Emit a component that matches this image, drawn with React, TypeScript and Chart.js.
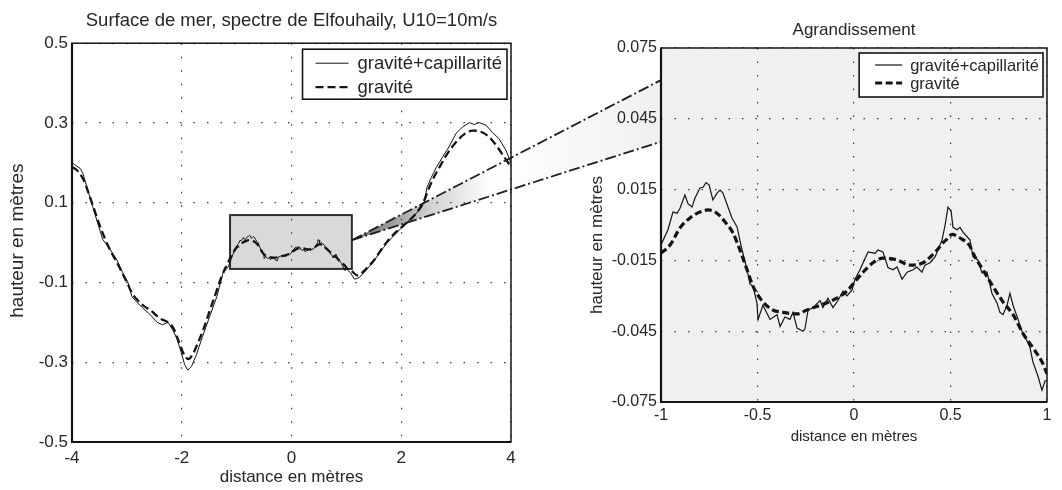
import React, { useEffect, useRef } from "react";
import { Chart, registerables } from "chart.js";

Chart.register(...registerables);

const FONT = "'Liberation Sans', Arial, Helvetica, sans-serif";
const TEXT_COLOR = "#262626";
const INK = "#141414";
const GRID_COLOR = "#3a3a3a";

const overviewTitle = "Surface de mer, spectre de Elfouhaily, U10=10m/s";
const zoomTitle = "Agrandissement";
const xAxisLabel = "distance en mètres";
const yAxisLabel = "hauteur en mètres";
const seriesLabels = ["gravité+capillarité", "gravité"];

const overviewXTicks = [-4, -2, 0, 2, 4];
const overviewYTicks = [-0.5, -0.3, -0.1, 0.1, 0.3, 0.5];
const zoomXTicks = [-1, -0.5, 0, 0.5, 1];
const zoomYTicks = [-0.075, -0.045, -0.015, 0.015, 0.045, 0.075];

// gravité+capillarité, x < -1
const solidWestX = [-4.0, -3.95, -3.85, -3.8, -3.71, -3.62, -3.53, -3.44, -3.31, -3.18, -3.07, -2.98, -2.91, -2.82, -2.71, -2.58, -2.45, -2.35, -2.25, -2.16, -2.09, -2.0, -1.95, -1.89, -1.82, -1.73, -1.62, -1.49, -1.36, -1.25, -1.15, -1.07];
const solidWestY = [0.201, 0.195, 0.186, 0.173, 0.131, 0.089, 0.048, 0.008, -0.016, -0.044, -0.077, -0.1, -0.135, -0.149, -0.164, -0.18, -0.2, -0.206, -0.2, -0.22, -0.24, -0.28, -0.305, -0.32, -0.31, -0.28, -0.235, -0.185, -0.135, -0.077, -0.06, -0.03];

// gravité+capillarité, -1 .. 1
const zoomSolidX = [-1.0, -0.964, -0.938, -0.917, -0.902, -0.876, -0.86, -0.839, -0.824, -0.798, -0.782, -0.767, -0.751, -0.731, -0.71, -0.694, -0.679, -0.653, -0.632, -0.606, -0.58, -0.554, -0.539, -0.523, -0.503, -0.497, -0.472, -0.435, -0.399, -0.383, -0.358, -0.332, -0.316, -0.295, -0.264, -0.254, -0.238, -0.212, -0.176, -0.161, -0.135, -0.109, -0.083, -0.057, -0.036, -0.01, 0.005, 0.031, 0.047, 0.073, 0.098, 0.109, 0.124, 0.15, 0.176, 0.202, 0.223, 0.249, 0.275, 0.306, 0.326, 0.352, 0.368, 0.394, 0.42, 0.435, 0.456, 0.472, 0.487, 0.503, 0.513, 0.534, 0.549, 0.565, 0.601, 0.617, 0.642, 0.663, 0.689, 0.715, 0.741, 0.756, 0.772, 0.793, 0.808, 0.824, 0.85, 0.87, 0.896, 0.912, 0.927, 0.953, 0.974, 0.99, 1.0];
const zoomSolidY = [-0.0085, -0.002, 0.0055, 0.005, 0.007, 0.0127, 0.009, 0.0076, 0.0114, 0.0157, 0.016, 0.018, 0.017, 0.0106, 0.0135, 0.0148, 0.0135, 0.0076, 0.003, -0.0008, -0.0106, -0.019, -0.025, -0.026, -0.033, -0.04, -0.034, -0.04, -0.038, -0.043, -0.039, -0.04, -0.037, -0.0437, -0.045, -0.044, -0.036, -0.035, -0.032, -0.035, -0.031, -0.035, -0.032, -0.028, -0.03, -0.0275, -0.023, -0.019, -0.016, -0.0114, -0.0118, -0.012, -0.0106, -0.0114, -0.018, -0.019, -0.0178, -0.023, -0.02, -0.019, -0.0178, -0.02, -0.017, -0.016, -0.0135, -0.0106, -0.0064, 0.0, 0.0076, 0.006, -0.001, -0.002, -0.001, -0.003, -0.0064, -0.0135, -0.0148, -0.0203, -0.0199, -0.029, -0.033, -0.037, -0.038, -0.034, -0.029, -0.034, -0.04, -0.045, -0.049, -0.052, -0.058, -0.064, -0.07, -0.066, -0.066];

// gravité+capillarité, x > 1
const solidEastX = [1.07, 1.15, 1.24, 1.36, 1.47, 1.6, 1.73, 1.84, 2.02, 2.18, 2.33, 2.42, 2.47, 2.55, 2.64, 2.75, 2.87, 3.0, 3.11, 3.24, 3.33, 3.42, 3.55, 3.66, 3.78, 3.91, 4.0];
const solidEastY = [-0.075, -0.092, -0.087, -0.069, -0.052, -0.027, -0.003, 0.014, 0.039, 0.061, 0.081, 0.101, 0.139, 0.164, 0.189, 0.214, 0.24, 0.274, 0.289, 0.301, 0.296, 0.301, 0.294, 0.276, 0.261, 0.231, 0.199];

// gravité, x < -1
const dashWestX = [-4.0, -3.9, -3.8, -3.7, -3.6, -3.5, -3.4, -3.3, -3.2, -3.1, -3.0, -2.9, -2.8, -2.7, -2.55, -2.4, -2.25, -2.15, -2.05, -1.95, -1.88, -1.8, -1.7, -1.6, -1.5, -1.4, -1.3, -1.2, -1.1];
const dashWestY = [0.19, 0.18, 0.16, 0.125, 0.085, 0.045, 0.01, -0.02, -0.045, -0.072, -0.1, -0.128, -0.145, -0.158, -0.172, -0.19, -0.2, -0.215, -0.25, -0.283, -0.292, -0.28, -0.25, -0.215, -0.175, -0.135, -0.095, -0.062, -0.035];

// gravité, -1 .. 1
const zoomDashX = [-1.0, -0.953, -0.902, -0.85, -0.798, -0.756, -0.71, -0.668, -0.627, -0.591, -0.554, -0.523, -0.472, -0.42, -0.368, -0.295, -0.244, -0.176, -0.109, -0.036, 0.005, 0.047, 0.098, 0.15, 0.223, 0.29, 0.358, 0.43, 0.461, 0.482, 0.508, 0.549, 0.601, 0.617, 0.668, 0.72, 0.772, 0.824, 0.876, 0.927, 0.974, 1.0];
const zoomDashY = [-0.012, -0.0085, -0.0013, 0.003, 0.0055, 0.0064, 0.005, 0.0013, -0.0034, -0.0106, -0.019, -0.026, -0.0326, -0.036, -0.037, -0.0377, -0.036, -0.034, -0.0318, -0.028, -0.024, -0.02, -0.016, -0.014, -0.0148, -0.017, -0.016, -0.0106, -0.0076, -0.006, -0.004, -0.0055, -0.009, -0.012, -0.019, -0.026, -0.0326, -0.038, -0.046, -0.052, -0.058, -0.063];

// gravité, x > 1
const dashEastX = [1.1, 1.2, 1.3, 1.4, 1.5, 1.6, 1.7, 1.8, 1.95, 2.1, 2.25, 2.4, 2.5, 2.6, 2.7, 2.85, 3.0, 3.15, 3.3, 3.45, 3.6, 3.75, 3.9, 4.0];
const dashEastY = [-0.072, -0.082, -0.074, -0.06, -0.045, -0.025, -0.005, 0.012, 0.032, 0.05, 0.07, 0.1, 0.135, 0.165, 0.19, 0.225, 0.252, 0.272, 0.281, 0.278, 0.265, 0.24, 0.21, 0.19];

// zoom box and connector (data coordinates)
const insetX = [-1.12, 1.1];
const insetY = [-0.066, 0.069];
const wedgeApex = [1.1, 0.006];
const wedgeEndX = -1;
const wedgeEndY = [0.0614, 0.0353];

const toPoints = (xs: number[], ys: number[]) => xs.map((x, i) => ({ x, y: ys[i] }));

const overviewSolid = toPoints([...solidWestX, ...zoomSolidX, ...solidEastX], [...solidWestY, ...zoomSolidY, ...solidEastY]);
const overviewDash = toPoints([...dashWestX, ...zoomDashX, ...dashEastX], [...dashWestY, ...zoomDashY, ...dashEastY]);
const zoomSolid = toPoints(zoomSolidX, zoomSolidY);
const zoomDash = toPoints(zoomDashX, zoomDashY);

const holder: { zoom: any } = { zoom: null };

function setTicks(values: number[]) {
  return (scale: any) => {
    scale.ticks = values.map((v) => ({ value: v }));
  };
}

function drawFrame(chart: any) {
  const { ctx, chartArea: a } = chart;
  ctx.save();
  ctx.setLineDash([]);
  ctx.strokeStyle = INK;
  ctx.lineWidth = 1.5;
  ctx.strokeRect(a.left, a.top, a.right - a.left, a.bottom - a.top);
  ctx.lineWidth = 2.2;
  ctx.beginPath();
  ctx.moveTo(a.left, a.top);
  ctx.lineTo(a.left, a.bottom);
  ctx.lineTo(a.right, a.bottom);
  ctx.stroke();
  ctx.restore();
}

function drawYTitle(chart: any, dx: number, dy: number, size: number) {
  const { ctx, chartArea: a } = chart;
  ctx.save();
  ctx.translate(a.left + dx, (a.top + a.bottom) / 2 + dy);
  ctx.rotate(-Math.PI / 2);
  ctx.font = `${size}px ${FONT}`;
  ctx.fillStyle = TEXT_COLOR;
  ctx.textAlign = "center";
  ctx.textBaseline = "middle";
  ctx.fillText(yAxisLabel, 0, 0);
  ctx.restore();
}

function drawLegend(chart: any, cfg: any) {
  const { ctx, chartArea: a } = chart;
  const sets = chart.data.datasets;
  ctx.save();
  ctx.font = `${cfg.fontSize}px ${FONT}`;
  const tw = Math.max(...sets.map((d: any) => ctx.measureText(d.label).width));
  const w = cfg.padL + cfg.lineLen + cfg.gap + tw + cfg.padR;
  const x = a.right - cfg.insetR - w;
  const y = a.top + cfg.insetT;
  ctx.fillStyle = "#ffffff";
  ctx.fillRect(x, y, w, cfg.height);
  ctx.setLineDash([]);
  ctx.lineWidth = 1.6;
  ctx.strokeStyle = INK;
  ctx.strokeRect(x, y, w, cfg.height);
  sets.forEach((d: any, i: number) => {
    const cy = y + cfg.rowTop + i * cfg.rowGap;
    ctx.beginPath();
    ctx.setLineDash(d.borderDash || []);
    ctx.lineWidth = d.borderWidth;
    ctx.strokeStyle = d.borderColor;
    ctx.moveTo(x + cfg.padL, cy);
    ctx.lineTo(x + cfg.padL + cfg.lineLen, cy);
    ctx.stroke();
    ctx.setLineDash([]);
    ctx.fillStyle = TEXT_COLOR;
    ctx.textAlign = "left";
    ctx.textBaseline = "middle";
    ctx.fillText(d.label, x + cfg.padL + cfg.lineLen + cfg.gap, cy + 1);
  });
  ctx.restore();
}

function wedgeGeometry(chart: any) {
  const z = holder.zoom;
  if (!z) return null;
  return {
    ax: chart.scales.x.getPixelForValue(wedgeApex[0]),
    ay: chart.scales.y.getPixelForValue(wedgeApex[1]),
    ex: z.scales.x.getPixelForValue(wedgeEndX),
    e1: z.scales.y.getPixelForValue(wedgeEndY[0]),
    e2: z.scales.y.getPixelForValue(wedgeEndY[1]),
  };
}

const overviewDecor = {
  id: "overviewDecor",
  beforeDraw(chart: any) {
    const { ctx, scales } = chart;
    const x = scales.x;
    const y = scales.y;
    ctx.save();
    const rx0 = x.getPixelForValue(insetX[0]);
    const rx1 = x.getPixelForValue(insetX[1]);
    const ry0 = y.getPixelForValue(insetY[1]);
    const ry1 = y.getPixelForValue(insetY[0]);
    ctx.fillStyle = "#d9d9d9";
    ctx.fillRect(rx0, ry0, rx1 - rx0, ry1 - ry0);
    ctx.lineWidth = 2;
    ctx.strokeStyle = "#2e2e2e";
    ctx.strokeRect(rx0, ry0, rx1 - rx0, ry1 - ry0);
    const g = wedgeGeometry(chart);
    if (g) {
      const grad = ctx.createLinearGradient(g.ax, 0, g.ex, 0);
      grad.addColorStop(0, "#666666");
      grad.addColorStop(0.25, "#d0d0d0");
      grad.addColorStop(0.45, "#ffffff");
      grad.addColorStop(1, "#f0f0f0");
      ctx.fillStyle = grad;
      ctx.beginPath();
      ctx.moveTo(g.ax, g.ay);
      ctx.lineTo(g.ex, g.e1);
      ctx.lineTo(g.ex, g.e2);
      ctx.closePath();
      ctx.fill();
    }
    ctx.restore();
  },
  afterDatasetsDraw(chart: any) {
    const { ctx } = chart;
    const g = wedgeGeometry(chart);
    if (g) {
      ctx.save();
      ctx.strokeStyle = "#1e1e1e";
      ctx.lineWidth = 1.8;
      ctx.setLineDash([11, 3, 2, 3]);
      [g.e1, g.e2].forEach((ey) => {
        ctx.beginPath();
        ctx.moveTo(g.ax, g.ay);
        ctx.lineTo(g.ex, ey);
        ctx.stroke();
      });
      ctx.restore();
    }
    drawFrame(chart);
    drawLegend(chart, { fontSize: 18.5, padL: 13, lineLen: 33, gap: 9, padR: 5, insetR: 4, insetT: 6, height: 50, rowTop: 14, rowGap: 24 });
    drawYTitle(chart, -54, -2, 19);
  },
};

const zoomDecor = {
  id: "zoomDecor",
  beforeDraw(chart: any) {
    const { ctx, chartArea: a } = chart;
    ctx.save();
    ctx.fillStyle = "#f0f0f0";
    ctx.fillRect(a.left, a.top, a.right - a.left, a.bottom - a.top);
    ctx.restore();
  },
  afterDatasetsDraw(chart: any) {
    drawFrame(chart);
    drawLegend(chart, { fontSize: 16.5, padL: 16, lineLen: 27, gap: 8, padR: 4, insetR: 4, insetT: 5, height: 44, rowTop: 12, rowGap: 18 });
    drawYTitle(chart, -64, 20, 17);
  },
};

function axisFont(size: number) {
  return { family: FONT, size, weight: "normal" as const };
}

function makeScale(opts: any) {
  return {
    type: "linear",
    min: opts.min,
    max: opts.max,
    afterBuildTicks: setTicks(opts.ticks),
    afterFit: opts.afterFit,
    grid: { color: GRID_COLOR, lineWidth: 1.2, drawTicks: false },
    border: { display: false, dash: [1.5, 12] },
    ticks: {
      padding: opts.padding,
      color: TEXT_COLOR,
      font: axisFont(opts.tickSize),
      maxRotation: 0,
      autoSkip: false,
      callback: opts.format,
    },
    title: opts.title
      ? { display: true, text: opts.title, color: TEXT_COLOR, font: axisFont(opts.titleSize), padding: { top: 0, bottom: opts.titlePad } }
      : { display: false },
  };
}

export default function App() {
  const leftRef = useRef<HTMLCanvasElement | null>(null);
  const rightRef = useRef<HTMLCanvasElement | null>(null);

  useEffect(() => {
    document.body.style.margin = "0";
    const W = 1062;
    const left = new Chart(leftRef.current as HTMLCanvasElement, {
      type: "line",
      data: {
        datasets: [
          { label: seriesLabels[0], data: overviewSolid, borderColor: INK, borderWidth: 1, pointRadius: 0, tension: 0, fill: false },
          { label: seriesLabels[1], data: overviewDash, borderColor: INK, borderWidth: 2.3, borderDash: [8, 4], pointRadius: 0, cubicInterpolationMode: "monotone", fill: false },
        ],
      } as any,
      options: {
        animation: false,
        responsive: false,
        maintainAspectRatio: false,
        events: [],
        layout: { padding: { left: 0, right: W - 511, top: 0, bottom: 0 } },
        plugins: {
          legend: { display: false },
          tooltip: { enabled: false },
          title: { display: true, text: overviewTitle, fullSize: false, color: TEXT_COLOR, font: axisFont(18.5), padding: { top: 10, bottom: 11 } },
        },
        scales: {
          x: makeScale({ min: -4, max: 4, ticks: overviewXTicks, afterFit: (s: any) => { s.height = 48; }, padding: 6, tickSize: 17, format: (v: any) => String(v), title: xAxisLabel, titleSize: 17, titlePad: 2 }),
          y: makeScale({ min: -0.5, max: 0.5, ticks: overviewYTicks, afterFit: (s: any) => { s.width = 72; }, padding: 4, tickSize: 17, format: (v: any) => Number(v).toFixed(1) }),
        },
      } as any,
      plugins: [overviewDecor],
    });

    const right = new Chart(rightRef.current as HTMLCanvasElement, {
      type: "line",
      data: {
        datasets: [
          { label: seriesLabels[0], data: zoomSolid, borderColor: INK, borderWidth: 1.2, pointRadius: 0, tension: 0, fill: false },
          { label: seriesLabels[1], data: zoomDash, borderColor: INK, borderWidth: 3.2, borderDash: [7, 3.5], pointRadius: 0, cubicInterpolationMode: "monotone", fill: false },
        ],
      } as any,
      options: {
        animation: false,
        responsive: false,
        maintainAspectRatio: false,
        events: [],
        layout: { padding: { left: 661 - 70, right: W - 1047, top: 0, bottom: 0 } },
        plugins: {
          legend: { display: false },
          tooltip: { enabled: false },
          title: { display: true, text: zoomTitle, fullSize: false, color: TEXT_COLOR, font: axisFont(17), padding: { top: 20, bottom: 7.6 } },
        },
        scales: {
          x: makeScale({ min: -1, max: 1, ticks: zoomXTicks, afterFit: (s: any) => { s.height = 88; }, padding: 3.5, tickSize: 16, format: (v: any) => String(v), title: xAxisLabel, titleSize: 15, titlePad: 44 }),
          y: makeScale({ min: -0.075, max: 0.075, ticks: zoomYTicks, afterFit: (s: any) => { s.width = 70; }, padding: 4, tickSize: 16, format: (v: any) => Number(v).toFixed(3) }),
        },
      } as any,
      plugins: [zoomDecor],
    });

    holder.zoom = right;
    left.update();

    return () => {
      holder.zoom = null;
      right.destroy();
      left.destroy();
    };
  }, []);

  const canvasStyle: React.CSSProperties = { position: "absolute", left: 0, top: 0, width: 1062, height: 490, display: "block" };
  return (
    <div style={{ position: "relative", width: 1062, height: 490, background: "#ffffff", overflow: "hidden" }}>
      <canvas ref={leftRef} width={1062} height={490} style={canvasStyle} />
      <canvas ref={rightRef} width={1062} height={490} style={canvasStyle} />
    </div>
  );
}
